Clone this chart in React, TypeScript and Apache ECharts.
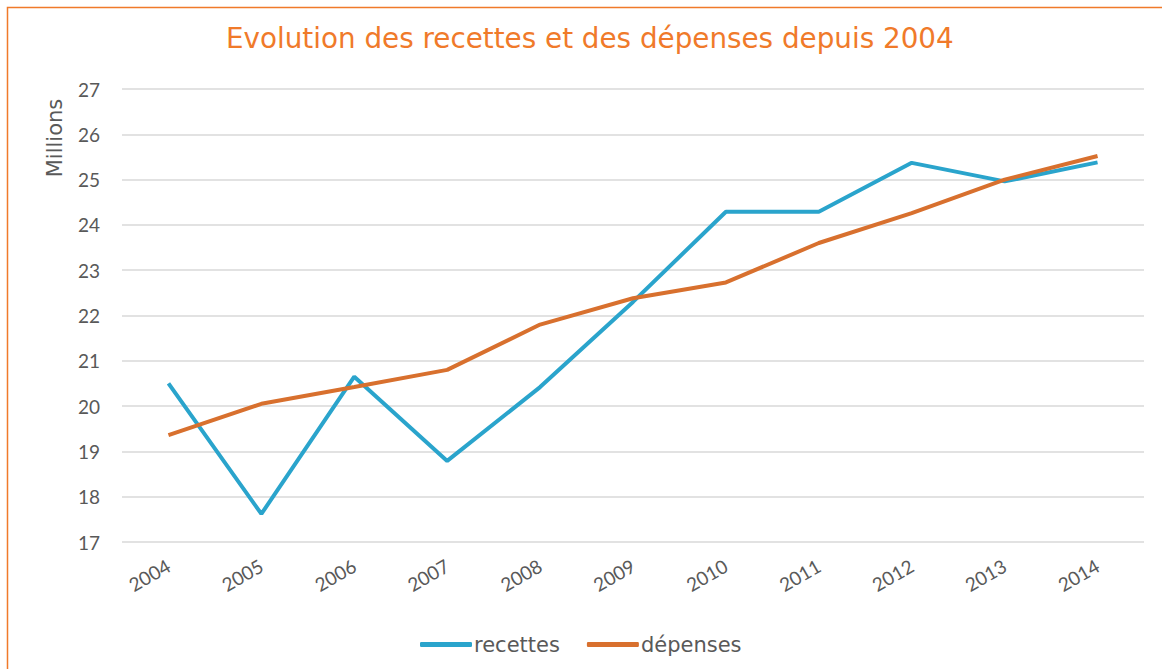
import React, { useEffect, useRef } from "react";
import * as echarts from "echarts";

const years = ["2004", "2005", "2006", "2007", "2008", "2009", "2010", "2011", "2012", "2013", "2014"];
const recettes = [20.5, 17.62, 20.65, 18.79, 20.42, 22.3, 24.29, 24.29, 25.37, 24.96, 25.38];
const depenses = [19.36, 20.05, 20.42, 20.8, 21.8, 22.38, 22.73, 23.6, 24.26, 25.0, 25.52];
const titleText = "Evolution des recettes et des dépenses depuis 2004";
const yAxisName = "Millions";

const FONT = "'Lato', 'DejaVu Sans', sans-serif";
const WIDE = "'DejaVu Sans', sans-serif";
const ORANGE = "#F07A2A";
const BLUE = "#2AA4CC";
const DEP = "#D8702E";
const GRAY = "#595959";

export default function App() {
  const ref = useRef<HTMLDivElement>(null);
  useEffect(() => {
    if (!ref.current) return;
    const chart = echarts.init(ref.current, undefined, { renderer: "svg" });
    chart.setOption({
      animation: false,
      backgroundColor: "#ffffff",
      textStyle: { fontFamily: FONT },
      title: {
        text: titleText,
        left: 221,
        top: 19,
        textStyle: { color: ORANGE, fontSize: 27.8, fontWeight: "normal", fontFamily: WIDE },
      },
      graphic: [
        {
          type: "rect",
          shape: { x: 7.5, y: 7.5, width: 1200, height: 700 },
          style: { fill: "none", stroke: ORANGE, lineWidth: 1.5 },
          silent: true,
        },
        {
          type: "text",
          x: 55,
          y: 138,
          rotation: Math.PI / 2,
          style: {
            text: yAxisName,
            fill: GRAY,
            fontSize: 21,
            fontFamily: WIDE,
            align: "center",
            verticalAlign: "middle",
          },
        },
      ],
      legend: {
        bottom: 9,
        left: 415,
        icon: "roundRect",
        itemWidth: 52,
        itemHeight: 5,
        itemGap: 27,
        textStyle: { color: GRAY, fontSize: 21, fontFamily: WIDE, padding: [0, 0, 0, -3] },
        data: ["recettes", "dépenses"],
      },
      grid: { left: 122, right: 18, top: 89, bottom: 127, containLabel: false },
      xAxis: {
        type: "category",
        data: years,
        boundaryGap: true,
        axisLine: { show: false },
        axisTick: { show: false },
        axisLabel: { rotate: 30, margin: 22, color: GRAY, fontSize: 19, fontFamily: FONT },
      },
      yAxis: {
        type: "value",
        min: 17,
        max: 27,
        interval: 1,
        axisLine: { show: false },
        axisTick: { show: false },
        axisLabel: { margin: 22, color: GRAY, fontSize: 19, fontFamily: FONT },
        splitLine: { lineStyle: { color: "#D9D9D9", width: 1.5 } },
      },
      series: [
        {
          name: "recettes",
          type: "line",
          data: recettes,
          symbol: "none",
          lineStyle: { color: BLUE, width: 4 },
          itemStyle: { color: BLUE },
        },
        {
          name: "dépenses",
          type: "line",
          data: depenses,
          symbol: "none",
          lineStyle: { color: DEP, width: 4 },
          itemStyle: { color: DEP },
        },
      ],
    });
    return () => chart.dispose();
  }, []);
  return <div ref={ref} style={{ position: "fixed", left: 0, top: 0, width: 1162, height: 669 }} />;
}
